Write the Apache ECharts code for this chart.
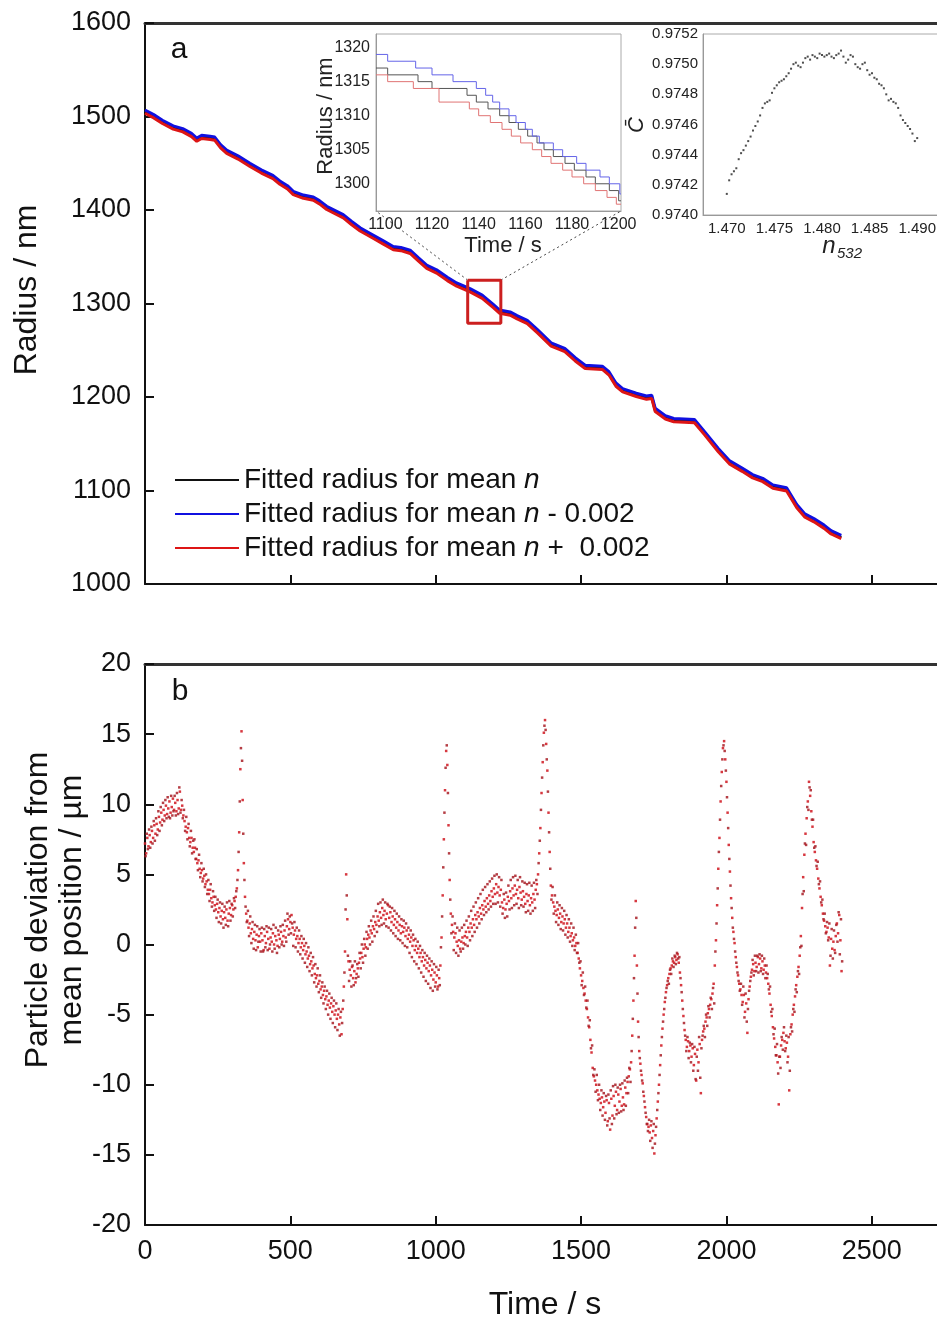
<!DOCTYPE html>
<html>
<head>
<meta charset="utf-8">
<script src="https://cdn.jsdelivr.net/npm/echarts@6/dist/echarts.min.js"></script>
<style>
html, body { margin: 0; padding: 0; background: #fff; }
#chart { width: 937px; height: 1323px; }
</style>
</head>
<body>
<div id="chart"></div>
<script>
var FONT = '"Liberation Sans", Arial, sans-serif';

// panel a: fitted radius (nm) against time (s)
var timeA = [0,30,60,97,130,160,178,195,224,240,260,281,320,361,400,440,464,490,510,545,579,600,625,682,710,740,786,820,854,880,912,940,969,1003,1040,1072,1118,1160,1198,1220,1256,1280,1315,1350,1397,1444,1480,1514,1573,1596,1620,1643,1690,1725,1743,1755,1790,1819,1890,1925,1972,2010,2054,2090,2125,2160,2207,2242,2270,2301,2336,2360,2395];
var radiusMean = [1505,1500,1494,1488,1485,1480,1475,1478,1477,1476,1468,1462,1456,1448,1441,1435,1429,1424,1418,1414,1412,1408,1402,1393,1386,1379,1371,1365,1359,1358,1355,1347,1339,1334,1326,1320,1314,1307,1297,1291,1289,1285,1280,1270,1256,1250,1240,1232,1231,1225,1213,1207,1202,1199,1200,1186,1178,1175,1174,1161,1143,1130,1122,1115,1111,1104,1101,1083,1073,1068,1061,1055,1050];
var radiusMinus = [1507,1502,1496,1490,1487,1482,1477,1480,1479,1478,1470,1464,1458,1450,1443,1437,1431,1426,1420,1416,1414,1410,1404,1395,1388,1381,1373,1367,1361,1360,1357,1349,1341,1336,1328,1322,1316,1309,1299,1293,1291,1287,1282,1272,1258,1252,1242,1234,1233,1227,1215,1209,1204,1201,1202,1188,1180,1177,1176,1163,1145,1132,1124,1117,1113,1106,1103,1085,1075,1070,1063,1057,1052];
var radiusPlus = [1503.5,1498.5,1492.5,1486.5,1483.5,1478.5,1473.5,1476.5,1475.5,1474.5,1466.5,1460.5,1454.5,1446.5,1439.5,1433.5,1427.5,1422.5,1416.5,1412.5,1410.5,1406.5,1400.5,1391.5,1384.5,1377.5,1369.5,1363.5,1357.5,1356.5,1353.5,1345.5,1337.5,1332.5,1324.5,1318.5,1312.5,1305.5,1295.5,1289.5,1287.5,1283.5,1278.5,1268.5,1254.5,1248.5,1238.5,1230.5,1229.5,1223.5,1211.5,1205.5,1200.5,1197.5,1198.5,1184.5,1176.5,1173.5,1172.5,1159.5,1141.5,1128.5,1120.5,1113.5,1109.5,1102.5,1099.5,1081.5,1071.5,1066.5,1059.5,1053.5,1048.5];

// zoom window marked on panel a
var zoomBoxT = [1110, 1224];
var zoomBoxR = [1279, 1325];

// inset 1: stepped traces, 1100-1200 s
var insetT = [1096, 1201];
var insetR = [1296, 1322];
var insetMinus = [[1096,1319],[1101,1318],[1113,1317],[1120,1316],[1129,1315],[1139,1314],[1143,1313],[1146,1312],[1149,1311],[1153,1310],[1156,1309],[1160,1308],[1163,1307],[1166,1306],[1172,1305],[1176,1304],[1182,1303],[1186,1302],[1192,1301],[1196,1300],[1200.5,1298.5],[1201,1298.5]];
var insetMean = [[1096,1317],[1101,1316],[1114,1315],[1120,1314],[1135,1313],[1139,1312],[1144,1311],[1149,1310],[1153,1309],[1157,1308],[1161,1307],[1165,1306],[1168,1305],[1172,1304],[1177,1303],[1181,1302],[1186,1301],[1190,1300],[1196,1299],[1200,1297.5],[1201,1297.5]];
var insetPlus = [[1096,1316],[1101,1315],[1112,1314],[1123,1312],[1136,1311],[1140,1310],[1145,1309],[1150,1308],[1154,1307],[1158,1306],[1163,1305],[1167,1304],[1171,1303],[1176,1302],[1180,1301],[1185,1300],[1190,1299],[1195,1298],[1199,1297],[1201,1297]];

// inset 2: C-bar against n532
var nList = [1.47,1.47025,1.4705,1.47075,1.471,1.47125,1.4715,1.47175,1.472,1.47225,1.4725,1.47275,1.473,1.47325,1.4735,1.47375,1.474,1.47425,1.4745,1.47475,1.475,1.47525,1.4755,1.47575,1.476,1.47625,1.4765,1.47675,1.477,1.47725,1.4775,1.47775,1.478,1.47825,1.4785,1.47875,1.479,1.47925,1.4795,1.47975,1.48,1.48025,1.4805,1.48075,1.481,1.48125,1.4815,1.48175,1.482,1.48225,1.4825,1.48275,1.483,1.48325,1.4835,1.48375,1.484,1.48425,1.4845,1.48475,1.485,1.48525,1.4855,1.48575,1.486,1.48625,1.4865,1.48675,1.487,1.48725,1.4875,1.48775,1.488,1.48825,1.4885,1.48875,1.489,1.48925,1.4895,1.48975,1.49];
var cBar = [0.97414,0.97423,0.97427,0.97429,0.97431,0.97437,0.97441,0.97443,0.97446,0.97449,0.97452,0.97456,0.97459,0.97462,0.97466,0.97471,0.97474,0.97475,0.97476,0.97481,0.97484,0.97486,0.97488,0.97489,0.9749,0.97492,0.97494,0.97497,0.975,0.97501,0.97499,0.97498,0.97501,0.97504,0.97505,0.97503,0.97506,0.97505,0.97504,0.97507,0.97506,0.97505,0.97506,0.97507,0.97505,0.97504,0.97506,0.97507,0.97509,0.97505,0.97501,0.97503,0.97506,0.97505,0.975,0.97498,0.97497,0.975,0.97501,0.97496,0.97493,0.97494,0.97491,0.9749,0.97487,0.97486,0.97484,0.9748,0.97476,0.97477,0.97475,0.97474,0.97471,0.97466,0.97463,0.97461,0.97459,0.97457,0.97454,0.97449,0.97451];

// panel b: deviation (um), one value every DT seconds, two interleaved reads
var DT = 4;
var deviation = [
  7.2,6.5,7.6,7.0,7.8,7.3,8.1,7.6,8.5,7.9,8.6,8.2,9.1,8.7,9.4,8.9,9.6,9.2,9.9,9.3,9.7,10.2,9.4,9.8,10.4,
  9.6,10.1,9.5,10.3,9.7,10.9,9.6,9.9,9.2,8.8,8.4,8.0,8.3,7.6,7.3,7.6,6.9,6.6,6.9,6.1,5.8,6.0,5.4,5.1,5.3,
  4.7,4.9,4.3,4.5,3.9,3.6,3.9,3.3,3.0,3.4,2.8,2.5,2.9,2.3,2.6,2.0,2.4,1.8,2.3,1.9,2.5,1.7,2.2,2.6,2.1,
  2.8,2.5,3.1,3.4,4.0,5.3,8.0,12.5,15.2,10.3,5.8,3.4,2.2,1.7,1.2,1.5,0.8,1.1,0.4,0.9,0.3,0.7,-0.2,0.6,0.2,
  0.8,0.3,-0.4,0.6,0.1,0.9,0.4,-0.3,0.5,0.2,0.8,0.0,0.6,0.3,-0.1,0.7,0.4,0.9,0.2,0.6,1.0,0.5,1.3,1.8,1.1,
  1.6,2.1,1.2,0.7,1.0,0.4,0.6,0.1,0.4,-0.2,0.1,-0.4,-0.1,-0.7,-0.5,-1.0,-0.8,-1.4,-1.2,-1.7,-1.5,-2.1,-2.4,-2.2,-2.8,
  -2.6,-3.2,-3.0,-3.6,-3.3,-3.9,-3.7,-4.3,-4.0,-4.5,-4.2,-4.8,-4.4,-5.0,-4.7,-5.3,-5.0,-5.7,-5.2,-6.4,-4.6,-3.0,-0.5,5.0,1.8,
  -1.2,-1.8,-2.2,-1.6,-2.4,-1.9,-2.7,-2.1,-1.7,-1.3,-1.0,-0.6,-0.9,-0.3,0.0,-0.2,0.4,0.7,0.5,1.0,0.8,1.3,1.1,1.6,1.4,
  2.0,1.7,2.3,1.9,2.6,2.1,2.4,1.8,2.2,2.8,1.9,2.3,1.6,2.0,1.4,1.8,1.2,1.6,1.0,1.4,0.8,1.3,0.9,1.2,0.6,
  1.0,0.4,0.7,0.2,0.5,-0.1,0.3,-0.4,-0.1,-0.6,-0.3,-0.9,-0.6,-1.2,-0.9,-1.5,-1.1,-1.7,-1.3,-1.9,-1.5,-2.2,-1.8,-2.5,-2.0,
  -2.7,-2.2,-3.0,-2.4,-1.5,0.5,3.5,7.5,11.0,13.8,12.8,8.5,4.6,2.2,1.4,0.9,0.5,0.8,0.2,-0.1,0.3,-0.3,0.2,0.5,0.1,
  0.6,0.9,0.5,1.2,0.9,1.5,1.2,1.8,1.4,2.1,1.8,2.3,2.0,2.6,2.2,2.8,2.5,3.1,2.7,3.3,2.9,3.5,3.1,3.8,3.4,
  4.0,3.6,4.3,3.7,4.1,3.5,3.9,3.0,2.6,3.2,2.5,2.9,3.4,3.1,3.8,3.3,4.0,3.5,4.2,3.6,3.9,3.3,4.1,3.7,3.2,
  3.8,3.4,2.9,3.6,3.1,3.5,2.8,3.3,3.0,3.6,3.2,3.9,4.3,5.0,6.5,8.3,10.8,13.0,15.1,16.0,14.3,12.4,9.4,6.6,4.2,
  3.5,3.0,2.7,2.4,2.1,2.5,1.9,2.2,1.6,2.0,1.5,1.8,1.2,1.5,0.9,1.2,0.6,0.8,0.3,0.5,-0.1,0.1,-0.6,-1.0,-1.7,
  -2.2,-2.6,-3.1,-3.5,-4.0,-4.6,-5.2,-5.9,-6.8,-7.7,-8.8,-9.4,-9.7,-10.0,-10.4,-10.7,-11.0,-11.3,-10.9,-11.6,-11.2,-12.0,-11.1,-12.6,-11.3,
  -13.2,-11.0,-12.2,-10.8,-11.5,-10.5,-11.8,-10.7,-11.2,-10.3,-11.5,-10.9,-11.4,-10.2,-10.6,-9.8,-9.4,-8.9,-8.4,-6.5,-4.0,-0.8,3.1,-1.5,-5.5,
  -7.6,-8.5,-9.3,-9.9,-10.8,-11.6,-12.3,-12.8,-13.0,-13.4,-12.9,-13.8,-13.3,-14.9,-13.6,-12.4,-11.2,-10.0,-8.6,-7.2,-6.0,-5.0,-4.1,-3.4,-2.9,
  -2.4,-2.1,-1.7,-1.5,-1.2,-1.3,-0.9,-1.1,-0.7,-1.3,-2.0,-2.9,-4.0,-5.1,-6.1,-6.8,-7.3,-6.9,-7.6,-7.2,-8.0,-7.4,-8.6,-7.8,-9.7,
  -7.5,-8.4,-7.1,-10.6,-6.8,-6.2,-6.0,-5.5,-5.2,-4.9,-4.6,-4.3,-3.9,-3.5,-2.8,-1.5,0.3,2.8,5.4,7.6,10.2,12.3,14.0,14.5,13.2,
  11.6,9.4,7.1,5.2,3.3,1.9,0.9,0.1,-0.9,-1.6,-2.2,-2.8,-3.2,-3.6,-4.1,-3.6,-4.8,-4.2,-6.3,-3.9,-3.0,-2.3,-1.8,-1.4,-1.9,
  -1.3,-1.6,-0.9,-1.4,-1.0,-1.7,-1.2,-1.8,-1.5,-2.0,-2.4,-2.8,-3.5,-4.3,-5.1,-5.9,-6.7,-7.3,-7.9,-8.4,-11.4,-8.0,-7.2,-6.8,-6.3,
  -6.9,-7.4,-7.0,-8.0,-10.4,-6.4,-5.7,-5.0,-4.3,-3.7,-2.9,-2.3,-1.6,-0.8,0.6,2.6,4.8,6.4,7.9,9.0,10.2,11.6,10.6,9.5,8.4,
  7.3,6.6,6.0,5.4,4.7,4.0,3.4,2.8,2.2,1.7,1.3,0.9,1.2,0.5,-1.5,0.4,-0.3,0.2,-0.4,0.6,1.5,0.8,2.1,0.3,-1.9
];
// second read, offset by 2 s
var OFFSET_B = 2;
var deviationB = [
  6.3,7.9,6.8,8.2,6.9,8.4,7.2,8.8,7.4,9.0,7.8,9.5,8.1,9.8,8.5,10.1,8.8,10.3,9.0,10.5,9.1,9.0,10.6,9.2,9.5,
  10.6,9.2,10.8,9.3,11.2,9.4,10.3,9.0,9.6,8.1,9.1,7.5,8.6,7.0,8.1,6.5,7.4,7.5,6.1,6.8,5.3,6.4,4.8,5.8,4.5,
  5.4,4.1,5.0,3.6,4.6,3.1,4.3,2.7,3.8,2.4,3.4,1.9,3.2,1.6,3.0,1.5,2.9,1.2,2.7,1.4,3.0,1.3,3.1,1.7,2.9,
  2.0,3.3,2.6,3.8,4.6,6.6,10.2,14.0,13.1,7.9,4.6,2.7,1.6,2.4,0.6,2.0,0.1,1.6,-0.3,1.4,-0.4,1.3,0.2,1.1,-0.5,
  1.2,-0.5,1.1,-0.2,1.3,-0.4,1.2,0.0,1.1,-0.5,1.4,-0.3,1.2,-0.6,1.0,-0.2,1.3,0.0,1.4,-0.1,1.7,0.2,2.2,0.7,2.0,
  0.8,1.5,-0.1,1.6,-0.2,1.2,-0.5,1.0,-0.7,0.6,-1.0,0.4,-1.3,0.1,-1.6,-0.2,-1.9,-0.6,-2.2,-0.9,-2.7,-1.4,-3.0,-1.7,-3.4,
  -2.2,-3.8,-2.7,-4.2,-3.0,-4.6,-3.3,-5.0,-3.5,-5.3,-3.8,-5.6,-4.0,-5.9,-4.2,-6.1,-4.6,-6.5,-4.8,-5.6,-4.0,-2.0,2.5,3.5,-0.8,
  -2.6,-1.2,-3.0,-1.5,-2.9,-1.2,-2.4,-1.4,-2.3,-0.6,-1.7,0.0,-1.3,0.4,-0.8,0.9,-0.3,1.3,0.0,1.7,0.2,2.0,0.6,2.4,0.9,
  2.9,1.3,3.0,1.4,3.2,1.5,3.0,1.3,2.9,1.2,2.7,1.0,2.6,0.8,2.4,0.6,2.2,0.4,2.0,0.3,1.8,0.1,1.7,-0.1,1.5,
  -0.2,1.2,-0.6,1.0,-0.9,0.7,-1.2,0.4,-1.4,0.2,-1.7,-0.1,-2.0,-0.4,-2.3,-0.6,-2.6,-0.8,-2.8,-1.0,-3.1,-1.2,-3.3,-1.4,-3.0,
  -1.6,-3.2,-1.8,-2.9,-0.2,2.0,5.5,9.4,12.6,14.2,10.8,6.5,3.2,0.8,2.0,-0.4,1.5,-0.6,1.2,-0.8,1.0,-0.5,1.2,-0.3,1.4,
  0.0,1.7,-0.1,2.0,0.3,2.4,0.6,2.7,0.9,3.0,1.2,3.3,1.5,3.6,1.8,3.9,2.1,4.1,2.3,4.3,2.5,4.5,2.7,4.7,2.9,
  4.9,2.9,5.0,3.0,4.8,2.7,4.6,2.2,3.6,1.9,3.7,2.0,4.2,2.5,4.6,2.6,4.8,2.8,4.9,2.9,4.6,2.6,4.8,2.8,4.5,
  2.7,4.4,2.3,4.3,2.4,4.4,2.2,4.2,2.4,4.4,2.6,4.6,3.6,5.8,7.4,9.6,11.9,14.2,15.6,15.3,13.2,10.9,8.0,5.4,3.2,
  4.1,2.2,3.5,1.6,3.0,1.4,2.8,1.1,2.6,1.0,2.4,0.7,2.1,0.5,1.8,0.2,1.5,-0.1,1.2,-0.4,0.7,-0.6,0.1,-1.3,-1.2,
  -2.9,-2.0,-3.6,-3.0,-4.5,-4.0,-5.8,-5.4,-7.4,-7.2,-9.3,-8.9,-10.5,-9.3,-11.1,-10.0,-11.8,-10.4,-12.2,-10.6,-12.5,-10.8,-12.9,-10.7,-12.4,
  -10.4,-12.8,-10.1,-12.4,-10.0,-12.1,-10.2,-12.0,-10.0,-11.9,-9.9,-11.8,-9.7,-11.5,-9.5,-10.6,-8.8,-9.8,-7.6,-5.3,-2.4,1.2,1.9,-3.5,-6.6,
  -8.1,-9.0,-9.7,-10.5,-11.2,-12.0,-12.8,-13.3,-12.5,-14.0,-12.6,-14.5,-12.8,-14.2,-13.0,-11.8,-10.6,-9.3,-7.9,-6.6,-5.5,-4.6,-3.8,-3.1,-2.6,
  -2.8,-1.8,-2.1,-1.0,-1.6,-0.8,-1.4,-0.6,-1.0,-0.9,-2.4,-3.4,-4.6,-5.6,-6.5,-7.6,-6.6,-8.1,-7.0,-8.4,-7.1,-9.0,-7.3,-9.6,-8.0,
  -9.0,-6.6,-9.5,-7.4,-6.5,-5.8,-6.6,-5.0,-5.8,-4.4,-5.2,-3.8,-4.6,-3.1,-4.2,-0.5,1.5,4.0,6.6,8.9,11.3,13.2,14.2,13.8,12.4,
  10.5,8.3,6.1,4.2,2.6,1.2,0.4,-0.5,-1.3,-2.0,-2.6,-3.3,-2.8,-4.3,-3.0,-5.2,-3.5,-5.5,-4.6,-3.3,-2.6,-2.0,-1.1,-2.2,-0.8,
  -1.9,-0.8,-2.0,-0.7,-1.9,-0.8,-2.1,-1.0,-2.4,-1.5,-2.1,-3.2,-3.0,-4.8,-4.6,-6.4,-6.0,-7.9,-7.1,-9.2,-8.0,-8.8,-6.6,-7.5,-5.9,
  -7.6,-6.5,-8.4,-6.6,-9.0,-5.9,-6.2,-4.6,-4.8,-3.2,-3.4,-1.9,-2.1,-0.2,-0.1,3.6,3.8,7.2,7.1,9.8,9.6,11.2,11.0,8.9,8.9,
  6.9,7.0,5.6,5.9,4.3,4.5,3.0,3.2,1.8,2.2,0.8,1.6,0.3,1.5,-0.8,1.1,-1.0,1.0,-0.6,1.4,0.2,2.3,-0.7,1.8,-1.2
];

var legendNames = ['mean', 'minus', 'plus'];
var legendLabels = {
    mean: '{t|Fitted radius for mean }{i|n}',
    minus: '{t|Fitted radius for mean }{i|n}{t| - 0.002}',
    plus: '{t|Fitted radius for mean }{i|n}{t| +  0.002}'
};

function pairs(xs, ys) {
    return xs.map(function (x, i) { return [x, ys[i]]; });
}
function plain(v) { return String(v); }

var devData = deviation.map(function (v, i) { return [i * DT, v]; });
var devDataB = deviationB.map(function (v, i) { return [OFFSET_B + i * DT, v]; });

var boxData = [
    [zoomBoxT[0], zoomBoxR[1]], [zoomBoxT[1], zoomBoxR[1]],
    [zoomBoxT[1], zoomBoxR[0]], [zoomBoxT[0], zoomBoxR[0]],
    [zoomBoxT[0], zoomBoxR[1]]
];

function mainX(grid, labels) {
    return {
        gridIndex: grid, type: 'value', min: 0, max: 2800, interval: 500, position: 'bottom',
        axisLine: { show: true, onZero: false, lineStyle: { color: '#111', width: 2 } },
        axisTick: { show: true, inside: true, length: 9, lineStyle: { color: '#111', width: 2 } },
        axisLabel: { show: labels, showMaxLabel: false, fontSize: 27, color: '#111', margin: 13, fontFamily: FONT, formatter: plain },
        splitLine: { show: false }
    };
}
function topBorder(grid) {
    return {
        gridIndex: grid, type: 'value', min: 0, max: 2800, position: 'top',
        axisLine: { show: true, onZero: false, lineStyle: { color: '#333', width: 3 } },
        axisTick: { show: false }, axisLabel: { show: false }, splitLine: { show: false }
    };
}
function mainY(grid, min, max, interval) {
    return {
        gridIndex: grid, type: 'value', min: min, max: max, interval: interval,
        axisLine: { show: true, onZero: false, lineStyle: { color: '#111', width: 2 } },
        axisTick: { show: true, inside: true, length: 9, lineStyle: { color: '#111', width: 2 } },
        axisLabel: { fontSize: 27, color: '#111', margin: 14, fontFamily: FONT, formatter: plain },
        splitLine: { show: false }
    };
}
var insetAxisLine = { show: true, onZero: false, lineStyle: { color: '#999', width: 1 } };

var chart = echarts.init(document.getElementById('chart'), null, { renderer: 'canvas' });

var option = {
    animation: false,
    backgroundColor: '#fff',
    textStyle: { fontFamily: FONT },
    grid: [
        { left: 145, top: 23, width: 814, height: 561, containLabel: false, outerBoundsMode: 'none' },
        { left: 145, top: 664, width: 814, height: 561, containLabel: false, outerBoundsMode: 'none' },
        { left: 376, top: 34, width: 245, height: 177, show: true, borderColor: '#aaa', borderWidth: 1,
          containLabel: false, outerBoundsMode: 'none' },
        { left: 703, top: 34, width: 238, height: 181, show: true, borderColor: '#aaa', borderWidth: 1,
          containLabel: false, outerBoundsMode: 'none' }
    ],
    xAxis: [
        mainX(0, false),
        topBorder(0),
        mainX(1, true),
        topBorder(1),
        {
            gridIndex: 2, type: 'value', min: insetT[0], max: insetT[1],
            axisLine: insetAxisLine, axisTick: { show: false },
            axisLabel: { showMinLabel: false, showMaxLabel: false, fontSize: 16, color: '#222', margin: 6, fontFamily: FONT, formatter: plain },
            splitLine: { show: false }
        },
        {
            gridIndex: 3, type: 'value', min: 1.4675, max: 1.4925,
            axisLine: insetAxisLine, axisTick: { show: false },
            axisLabel: {
                showMinLabel: false, showMaxLabel: false, fontSize: 15, color: '#222', margin: 6, fontFamily: FONT,
                formatter: function (v) { return v.toFixed(3); }
            },
            splitLine: { show: false }
        }
    ],
    yAxis: [
        mainY(0, 1000, 1600, 100),
        mainY(1, -20, 20, 5),
        {
            gridIndex: 2, type: 'value', min: insetR[0], max: insetR[1],
            axisLine: insetAxisLine, axisTick: { show: false },
            axisLabel: { showMinLabel: false, showMaxLabel: false, fontSize: 16, color: '#222', margin: 6, fontFamily: FONT, formatter: plain },
            splitLine: { show: false }
        },
        {
            gridIndex: 3, type: 'value', min: 0.974, max: 0.9752, interval: 0.0002,
            axisLine: insetAxisLine, axisTick: { show: false },
            axisLabel: {
                fontSize: 15, color: '#222', margin: 5, fontFamily: FONT,
                formatter: function (v) { return v.toFixed(4); }
            },
            splitLine: { show: false }
        }
    ],
    legend: {
        orient: 'vertical', left: 170, top: 461,
        icon: 'rect', itemWidth: 64, itemHeight: 2, itemGap: 6,
        selectedMode: false,
        data: legendNames,
        formatter: function (name) { return legendLabels[name]; },
        textStyle: {
            fontSize: 28, color: '#111', fontFamily: FONT,
            rich: {
                t: { fontSize: 28, color: '#111', fontFamily: FONT },
                i: { fontSize: 28, color: '#111', fontFamily: FONT, fontStyle: 'italic' }
            }
        }
    },
    series: [
        { name: 'mean', type: 'line', xAxisIndex: 0, yAxisIndex: 0, data: pairs(timeA, radiusMean),
          symbol: 'none', color: '#111', lineStyle: { color: '#111', width: 3 }, z: 3 },
        { name: 'minus', type: 'line', xAxisIndex: 0, yAxisIndex: 0, data: pairs(timeA, radiusMinus),
          symbol: 'none', color: '#1010e0', lineStyle: { color: '#1010e0', width: 3 }, z: 4 },
        { name: 'plus', type: 'line', xAxisIndex: 0, yAxisIndex: 0, data: pairs(timeA, radiusPlus),
          symbol: 'none', color: '#dd1515', lineStyle: { color: '#dd1515', width: 3 }, z: 5 },
        { name: 'box', type: 'line', xAxisIndex: 0, yAxisIndex: 0, data: boxData,
          symbol: 'none', lineStyle: { color: '#cc1f1f', width: 3 }, z: 6, silent: true },
        { name: 'inset mean', type: 'line', xAxisIndex: 4, yAxisIndex: 2, data: insetMean, step: 'end',
          symbol: 'none', lineStyle: { color: '#555', width: 1 } },
        { name: 'inset minus', type: 'line', xAxisIndex: 4, yAxisIndex: 2, data: insetMinus, step: 'end',
          symbol: 'none', lineStyle: { color: '#6464e8', width: 1 } },
        { name: 'inset plus', type: 'line', xAxisIndex: 4, yAxisIndex: 2, data: insetPlus, step: 'end',
          symbol: 'none', lineStyle: { color: '#e07474', width: 1 } },
        { name: 'cbar', type: 'scatter', xAxisIndex: 5, yAxisIndex: 3, data: pairs(nList, cBar),
          symbol: 'rect', symbolSize: 2, itemStyle: { color: '#222' } },
        { name: 'deviation', type: 'scatter', xAxisIndex: 2, yAxisIndex: 1, data: devData,
          symbol: 'rect', symbolSize: 2.5, itemStyle: { color: '#d3222b', opacity: 0.9 } },
        { name: 'deviation b', type: 'scatter', xAxisIndex: 2, yAxisIndex: 1, data: devDataB,
          symbol: 'rect', symbolSize: 2.5, itemStyle: { color: '#a81c24', opacity: 0.85 } }
    ]
};

chart.setOption(option);

// dotted guides from the zoom box to the inset corners
var b1 = chart.convertToPixel({ xAxisIndex: 0, yAxisIndex: 0 }, [zoomBoxT[0], zoomBoxR[1]]);
var b2 = chart.convertToPixel({ xAxisIndex: 0, yAxisIndex: 0 }, [zoomBoxT[1], zoomBoxR[1]]);
var c1 = chart.convertToPixel({ xAxisIndex: 4, yAxisIndex: 2 }, [insetT[0], insetR[0]]);
var c2 = chart.convertToPixel({ xAxisIndex: 4, yAxisIndex: 2 }, [insetT[1], insetR[0]]);

var titleFont = '32px ' + FONT;
chart.setOption({
    graphic: [
        { type: 'line', z: 1, shape: { x1: b1[0], y1: b1[1], x2: c1[0], y2: c1[1] },
          style: { stroke: '#444', lineWidth: 1, lineDash: [2, 3] } },
        { type: 'line', z: 1, shape: { x1: b2[0], y1: b2[1], x2: c2[0], y2: c2[1] },
          style: { stroke: '#444', lineWidth: 1, lineDash: [2, 3] } },
        { type: 'text', x: 179, y: 50, style: { text: 'a', font: '30px ' + FONT, fill: '#111', textAlign: 'center', textVerticalAlign: 'middle' } },
        { type: 'text', x: 180, y: 692, style: { text: 'b', font: '30px ' + FONT, fill: '#111', textAlign: 'center', textVerticalAlign: 'middle' } },
        { type: 'text', x: 27, y: 290, rotation: Math.PI / 2,
          style: { text: 'Radius / nm', font: titleFont, fill: '#111', textAlign: 'center', textVerticalAlign: 'middle' } },
        { type: 'text', x: 55, y: 910, rotation: Math.PI / 2,
          style: { text: 'Particle deviation from\nmean position / \u00b5m', font: titleFont, lineHeight: 34, fill: '#111', textAlign: 'center', textVerticalAlign: 'middle' } },
        { type: 'text', x: 545, y: 1305,
          style: { text: 'Time / s', font: titleFont, fill: '#111', textAlign: 'center', textVerticalAlign: 'middle' } },
        { type: 'text', x: 326, y: 116, rotation: Math.PI / 2,
          style: { text: 'Radius / nm', font: '22px ' + FONT, fill: '#222', textAlign: 'center', textVerticalAlign: 'middle' } },
        { type: 'text', x: 503, y: 246,
          style: { text: 'Time / s', font: '22px ' + FONT, fill: '#222', textAlign: 'center', textVerticalAlign: 'middle' } },
        { type: 'text', x: 637, y: 125, rotation: Math.PI / 2,
          style: { text: 'C\u0304', font: 'italic 22px ' + FONT, fill: '#222', textAlign: 'center', textVerticalAlign: 'middle' } },
        { type: 'text', x: 829, y: 246,
          style: { text: 'n', font: 'italic 24px ' + FONT, fill: '#222', textAlign: 'center', textVerticalAlign: 'middle' } },
        { type: 'text', x: 837, y: 254,
          style: { text: '532', font: 'italic 15px ' + FONT, fill: '#222', textAlign: 'left', textVerticalAlign: 'middle' } }
    ]
});
</script>
</body>
</html>
